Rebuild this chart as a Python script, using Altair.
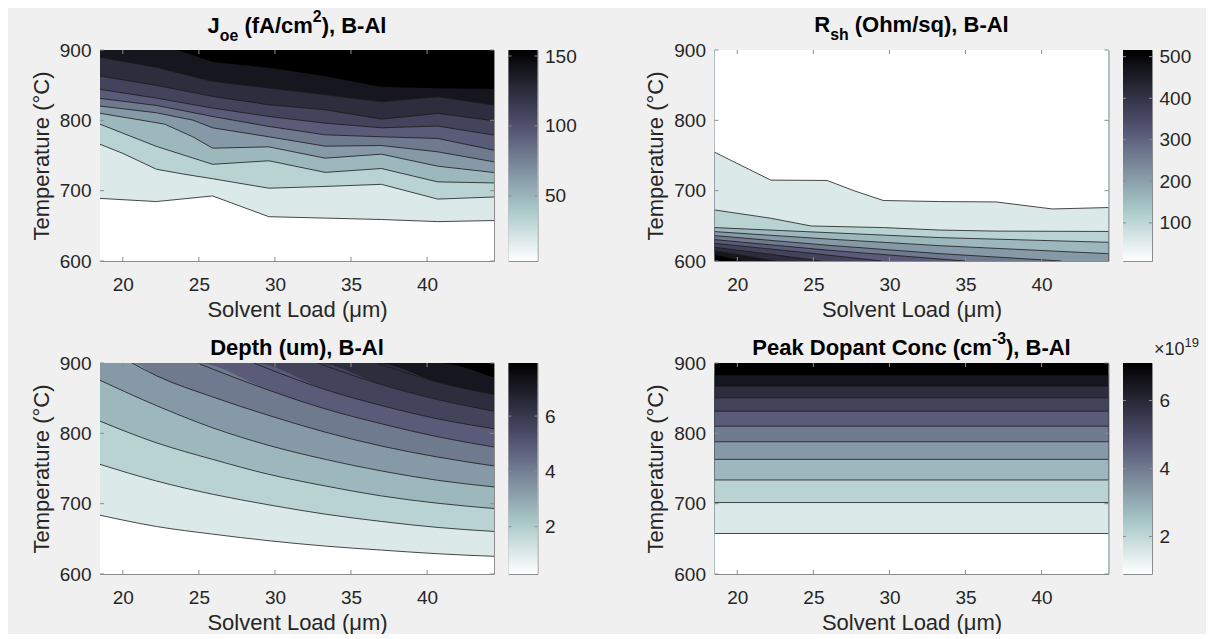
import altair as alt
import pandas as pd

# ---------------- shared axes ----------------
XMIN, XMAX = 18.5, 44.4
TMIN, TMAX = 600, 900
X_TICKS = [20, 25, 30, 35, 40]
T_TICKS = [600, 700, 800, 900]
GRID = [18.5, 22.2, 25.9, 29.6, 33.3, 37.0, 40.7, 44.4]

# ---------------- J_oe contour lines (lowest level first) ----------------
JOE_X = [
    GRID,
    [18.5, 20.0, 22.2, 24.0, 25.9, 29.6, 33.3, 37.0, 40.7, 44.4],
    GRID,
    [18.5, 21.2, 22.75, 24.6, 25.9, 29.6, 33.3, 37.0, 40.7, 44.4],
    [18.5, 22.2, 24.6, 25.9, 29.6, 33.3, 37.0, 40.7, 44.4],
    GRID,
    GRID,
    GRID,
    GRID,
    [23.5, 25.9, 29.6, 33.3, 37.0, 40.7, 44.4],
]
JOE_T = [
    [689, 684.5, 692.5, 663, 661, 659, 656, 657.5],
    [766, 753, 730.5, 723.5, 717, 703.5, 706, 709, 688, 691],
    [794.5, 763, 737.5, 742.5, 726, 731.5, 712.5, 711],
    [810, 800.3, 794.6, 776.6, 760.4, 762.3, 746.2, 751.9, 734.8, 725.8],
    [820.3, 810.8, 800.3, 789.4, 776.6, 763.3, 764.2, 755.2, 741],
    [831.2, 821.2, 805.5, 791.3, 779.4, 776.6, 774.2, 757.6],
    [844, 831.6, 817.4, 805.5, 796, 789.4, 791.8, 779],
    [863, 849.7, 834, 822.1, 815, 801.7, 809.8, 799.4],
    [889.6, 875.3, 855.4, 845.9, 836.4, 826.4, 833.5, 821.7],
    [900, 882.4, 873.9, 862, 846.8, 844.9, 844],
]
JOE_CLIM = [3.4, 154.3]
JOE_CTICKS = [50, 100, 150]

# ---------------- R_sh contour lines (lowest level = top line) ----------------
RSH_X = [
    [18.5, 22.2, 25.9, 27.7, 29.6, 33.3, 37.0, 40.7, 44.4],
    [18.5, 22.2, 24.85, 29.6, 33.3, 37.0, 44.4],
    [18.5, 25.9, 33.3, 44.4],
    [18.5, 25.9, 33.3, 44.4],
    [18.5, 25.9, 33.3, 41.3],
    [18.5, 25.9, 35.0],
    [18.5, 24.0, 29.5],
    [18.5, 22.2, 25.5],
    [18.5, 22.5],
    [18.5, 20.5],
]
RSH_T = [
    [754.7, 715, 714.5, 699.7, 686, 684.5, 684, 674, 676],
    [672.6, 660.8, 649.8, 647.5, 644, 642.5, 642],
    [647.5, 640.4, 633.3, 626.6],
    [641.8, 631.3, 621.8, 610.4],
    [636.1, 622.5, 610.5, 600],
    [630.4, 615.5, 600],
    [625.1, 613, 600],
    [619.5, 609.5, 600],
    [614.7, 600],
    [609.5, 600],
]
RSH_CLIM = [8.4, 516]
RSH_CTICKS = [100, 200, 300, 400, 500]

# ---------------- Depth contour lines ----------------
DEP_X = [
    GRID,
    GRID,
    GRID,
    GRID,
    [20.6, 22.2, 25.9, 29.6, 33.3, 37.0, 40.7, 44.4],
    [24.9, 29.6, 33.3, 37.0, 40.7, 44.4],
    [28.6, 33.3, 37.0, 40.7, 44.4],
    [32.8, 37.0, 40.7, 44.4],
    [36.7, 40.7, 44.4],
    [40.6, 44.4],
]
DEP_T = [
    [683.6, 667.6, 656.7, 647.3, 639.7, 634, 628.8, 625.1],
    [755.9, 732.3, 713.4, 698.3, 685.1, 674.7, 666.2, 660.5],
    [817.3, 786.6, 763, 741.7, 725.2, 711, 700.6, 693.1],
    [875.4, 839.5, 807.9, 782.8, 763, 746.5, 733.2, 723.8],
    [900, 882, 851.8, 825.4, 801.7, 781.9, 766.3, 753.6],
    [900, 861.3, 834.8, 813.6, 795.1, 780.5],
    [900, 862.2, 839.5, 820.6, 806.5],
    [900, 869.3, 848, 831.5],
    [900, 872.6, 855.1],
    [900, 878.7],
]
DEP_CLIM = [0.29, 7.92]
DEP_CTICKS = [2, 4, 6]

# ---------------- Peak dopant conc: horizontal contour levels ----------------
CONC_T = [657.6, 701.6, 733.7, 763.0, 788.0, 810.2, 831.5, 850.4, 866.9, 882.0]
CONC_CLIM = [0.895, 7.105]
CONC_CTICKS = [2, 4, 6]

# ---------------- style ----------------
W, H, CW = 394, 211, 29
SPACER_W = 147.6
TICK = 4
FRAME_C = "#8c8c8c"
LINE_C = "#1a1a1a"
TXT_C = "#262626"
FONT = "Liberation Sans"
TITLE_SIZE = 22

BOLD_W = {' ': 278, '(': 333, ')': 333, ',': 278, '-': 333, '/': 278, '2': 556, '3': 556,
          'A': 722, 'B': 722, 'C': 722, 'D': 722, 'J': 556, 'O': 778, 'P': 667, 'R': 722,
          'a': 556, 'c': 556, 'e': 556, 'f': 333, 'h': 611, 'k': 556, 'l': 278, 'm': 889,
          'n': 611, 'o': 611, 'p': 611, 'q': 611, 's': 556, 't': 333, 'u': 611}
REG_W = {'×': 584, '1': 556, '0': 556, '9': 556, ' ': 278}


def bone(t):
    hr = min(1.0, t / 0.375)
    hg = min(1.0, max(0.0, (t - 0.375) / 0.375))
    hb = min(1.0, max(0.0, (t - 0.75) / 0.25))
    r, g, b = (7 * t + hb) / 8, (7 * t + hg) / 8, (7 * t + hr) / 8
    return "#%02x%02x%02x" % (round(r * 255), round(g * 255), round(b * 255))


def band_color(k, n=10):
    return bone(1 - k / n)


def text_layers(pieces, x0, base, table, bold, center=True):
    def tw(t, s):
        return sum(table[c] for c in t) / 1000 * s
    widths = [tw(t, s) for t, s, dy in pieces]
    x = x0 - sum(widths) / 2 if center else x0
    out = []
    for (t, s, dy), w in zip(pieces, widths):
        lead = len(t) - len(t.lstrip(" "))
        out.append(
            alt.Chart(pd.DataFrame({"a": [0]}))
            .mark_text(align="left", baseline="alphabetic", font=FONT,
                       fontWeight="bold" if bold else "normal", fontSize=s,
                       color="#000000" if bold else TXT_C)
            .encode(x=alt.value(x + tw(" " * lead, s)), y=alt.value(base + dy),
                    text=alt.value(t.strip(" ")))
        )
        x += w
    return out


def contour_panel(xs, ts, far, interp, pieces, base):
    n = len(xs)
    xsc = alt.Scale(domain=[XMIN, XMAX], nice=False, zero=False)
    ysc = alt.Scale(domain=[TMIN, TMAX], nice=False, zero=False)
    X = alt.X("x:Q", scale=xsc, axis=alt.Axis(values=X_TICKS, format="d", title="Solvent Load (μm)"))
    Y = alt.Y("t:Q", scale=ysc, axis=alt.Axis(values=T_TICKS, format="d", title="Temperature (°C)"))
    layers = [
        alt.Chart(pd.DataFrame({"a": [0]}))
        .mark_rect(color=band_color(n))
        .encode(x=alt.value(0), x2=alt.value(W), y=alt.value(0), y2=alt.value(H))
    ]
    for k in range(n, 0, -1):
        px, pt = list(xs[k - 1]), list(ts[k - 1])
        if px[0] > XMIN:
            px, pt = [XMIN] + px, [pt[0]] + pt
        if px[-1] < XMAX:
            px, pt = px + [XMAX], pt + [pt[-1]]
        pt = [min(TMAX, max(TMIN, v)) for v in pt]
        layers.append(
            alt.Chart(pd.DataFrame({"x": px, "t": pt}))
            .mark_area(color=band_color(k - 1), interpolate=interp, clip=True)
            .encode(x=X, y=Y, y2=alt.datum(far))
        )
    for k in range(n):
        layers.append(
            alt.Chart(pd.DataFrame({"x": xs[k], "t": ts[k]}))
            .mark_line(color=LINE_C, strokeWidth=0.8, interpolate=interp, clip=True)
            .encode(x=X, y=Y)
        )
    xt = pd.DataFrame({"x": X_TICKS})
    yt = pd.DataFrame({"t": T_TICKS})
    rule = dict(color=FRAME_C, strokeWidth=1)
    layers += [
        alt.Chart(xt).mark_rule(**rule).encode(x=X, y=alt.value(H), y2=alt.value(H - TICK)),
        alt.Chart(xt).mark_rule(**rule).encode(x=X, y=alt.value(0), y2=alt.value(TICK)),
        alt.Chart(yt).mark_rule(**rule).encode(y=Y, x=alt.value(0), x2=alt.value(TICK)),
        alt.Chart(yt).mark_rule(**rule).encode(y=Y, x=alt.value(W - TICK), x2=alt.value(W)),
    ]
    layers += text_layers(pieces, W / 2, base, BOLD_W, True)
    return alt.layer(*layers).properties(width=W, height=H)


def colorbar(clim, cticks, extra=None):
    ysc = alt.Scale(domain=clim, nice=False, zero=False)
    Y = alt.Y("lo:Q", scale=ysc,
              axis=alt.Axis(orient="right", values=cticks, format="d", title=None,
                            labelPadding=7, tickSize=0))
    grad = alt.LinearGradient(
        gradient="linear", x1=0, x2=0, y1=1, y2=0,
        stops=[alt.GradientStop(offset=0, color=bone(1.0)),
               alt.GradientStop(offset=0.25, color=bone(0.75)),
               alt.GradientStop(offset=0.625, color=bone(0.375)),
               alt.GradientStop(offset=1, color=bone(0.0))])
    layers = [
        alt.Chart(pd.DataFrame({"lo": [clim[0]], "hi": [clim[1]]}))
        .mark_rect(color=grad)
        .encode(x=alt.value(0), x2=alt.value(CW), y=Y, y2="hi:Q")
    ]
    tk = pd.DataFrame({"lo": cticks})
    layers += [
        alt.Chart(tk).mark_rule(color=FRAME_C, strokeWidth=1).encode(y=Y, x=alt.value(CW - 3), x2=alt.value(CW)),
        alt.Chart(tk).mark_rule(color=FRAME_C, strokeWidth=1).encode(y=Y, x=alt.value(0), x2=alt.value(3)),
    ]
    if extra:
        layers += text_layers(extra, CW + 2, -8.3, REG_W, False, center=False)
    return alt.layer(*layers).properties(width=CW, height=H)


def spacer():
    return (alt.Chart(pd.DataFrame({"a": [0]})).mark_point(opacity=0)
            .encode(x=alt.value(0), y=alt.value(0))
            .properties(width=SPACER_W, height=H, view=alt.ViewBackground(stroke="transparent")))


SUB, SUP, SM = 8, -11, 0.72 * TITLE_SIZE
T1 = [("J", TITLE_SIZE, 0), ("oe", SM, SUB), (" (fA/cm", TITLE_SIZE, 0), ("2", SM, SUP), ("), B-Al", TITLE_SIZE, 0)]
T2 = [("R", TITLE_SIZE, 0), ("sh", SM, SUB), (" (Ohm/sq), B-Al", TITLE_SIZE, 0)]
T3 = [("Depth (um), B-Al", TITLE_SIZE, 0)]
T4 = [("Peak Dopant Conc (cm", TITLE_SIZE, 0), ("-3", SM, SUP), ("), B-Al", TITLE_SIZE, 0)]

p1 = contour_panel(JOE_X, JOE_T, TMIN, "linear", T1, -17.3)
p2 = contour_panel(RSH_X, RSH_T, TMAX, "linear", T2, -17.7)
p3 = contour_panel(DEP_X, DEP_T, TMIN, "monotone", T3, -8.3)
p4 = contour_panel([[XMIN, XMAX]] * len(CONC_T), [[v, v] for v in CONC_T], TMIN, "linear", T4, -8.3)

c1 = colorbar(JOE_CLIM, JOE_CTICKS)
c2 = colorbar(RSH_CLIM, RSH_CTICKS)
c3 = colorbar(DEP_CLIM, DEP_CTICKS)
c4 = colorbar(CONC_CLIM, CONC_CTICKS, extra=[("×10", 18, 0), ("19", 13, -8)])

chart = (
    alt.concat(p1, c1, spacer(), p2, c2, p3, c3, spacer(), p4, c4,
               columns=5, align="each", bounds="flush",
               spacing={"row": 102, "column": 14.5})
    .resolve_scale(x="independent", y="independent")
    .properties(padding={"left": 21, "top": 0, "right": 6, "bottom": 0})
    .configure(background="#f0f0f0", font=FONT)
    .configure_view(stroke=FRAME_C, strokeWidth=1)
    .configure_axis(labelFont=FONT, labelFontSize=19, labelColor=TXT_C,
                    titleFont=FONT, titleFontSize=22, titleFontWeight="normal",
                    titleColor=TXT_C, ticks=False, tickSize=0, domain=False, grid=False,
                    labelFlush=False, labelOverlap=False)
    .configure_axisX(labelPadding=14, titlePadding=5)
    .configure_axisY(labelPadding=9, titlePadding=6)
)

chart.save("out.html", embed_options={"renderer": "svg", "actions": False})
